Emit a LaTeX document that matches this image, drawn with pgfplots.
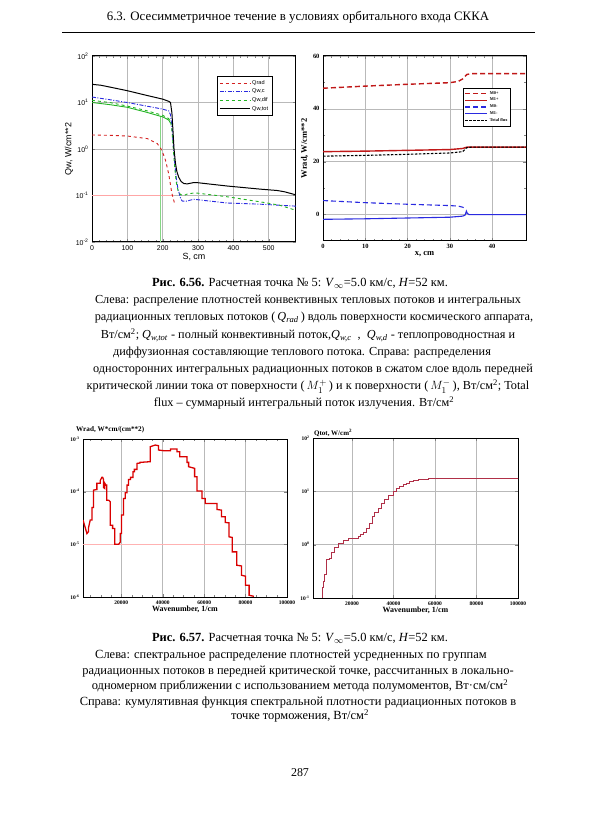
\documentclass[border=0pt]{standalone}
\usepackage{pgfplots}
\pgfplotsset{compat=1.18}
\usepackage{fontspec}
\setmainfont{Liberation Serif}
\setsansfont{Liberation Sans}
\definecolor{cred}{HTML}{D42020}
\definecolor{cblue}{HTML}{2A2AE0}
\definecolor{cgreen}{HTML}{22B422}
\definecolor{dred}{HTML}{C01818}
\definecolor{pred}{HTML}{B03048}
\newcommand{\capfont}{\fontsize{12.5}{15}\selectfont}
\newcommand{\capfontb}{\fontsize{12.3}{14}\selectfont}
\begin{document}
\begin{tikzpicture}[captxt/.style={anchor=base, inner sep=0pt}]
\path[use as bounding box, fill=white] (0bp,0bp) rectangle (600bp,815bp);
% header
\node[captxt, font=\fontsize{12.9}{14}\selectfont] at (298bp,794bp) {6.3. Осесимметричное течение в условиях орбитального входа СККА};
\draw[line width=0.8bp] (62bp,783bp) -- (535bp,783bp);

% ---------- plot 1 ----------
\begin{axis}[at={(92bp,573bp)}, anchor=south west, scale only axis,
  width=204bp, height=186bp,
  ymode=log, xmin=0, xmax=577, ymin=1e-2, ymax=1e2,
  xtick={0,100,200,300,400,500}, minor x tick num=4,
  ytick={1e-2,1e-1,1,10,100}, yminorticks=false,
  yticklabels={10\textsuperscript{-2},10\textsuperscript{-1},10\textsuperscript{0},10\textsuperscript{1},10\textsuperscript{2}},
  grid=major, major grid style={gray!55, line width=0.6bp},
  axis line style={line width=1bp},
  major tick length=3bp, minor tick length=1.8bp,
  tick label style={font=\sffamily\fontsize{7}{8}\selectfont},
  /pgf/number format/assume math mode=true,
  xlabel={S, cm}, ylabel={Qw, W/cm**2},
  label style={font=\sffamily\fontsize{9}{10}\selectfont},
  xlabel style={yshift=4bp},
  ylabel style={yshift=-4bp},
  legend style={at={(0.613,0.892)}, anchor=north west, draw=black, line width=0.4bp,
    font=\sffamily\fontsize{5.6}{6}\selectfont, inner sep=2bp, row sep=-0.8bp,
    cells={anchor=west}},
  legend image code/.code={\draw[#1] (0bp,0bp) -- (30bp,0bp);},
]
\addplot[forget plot, red!35, line width=0.5bp] coordinates {(0,0.1) (231,0.1)};
\addplot[forget plot, cgreen!55, line width=0.4bp] coordinates {(193,5.0) (193,0.01)};
\addplot[cred, dashed, line width=0.9bp] coordinates {
(0,2.0) (50,1.97) (100,1.9) (157,1.67) (185,1.3) (198,0.93) (208,0.57) (217,0.29) (226,0.11) (234,0.066)};
\addlegendentry{Qrad}
\addplot[cblue, dash pattern=on 4bp off 1.5bp on 1bp off 1.5bp, line width=0.9bp] coordinates {
(0,13.1) (50,11.5) (99,10) (150,8.5) (200,7.2) (217,6.6) (222,5.5) (226,3) (230,1.2) (234,0.5) (238,0.25) (243,0.14) (250,0.09) (255,0.076) (265,0.075) (288,0.083) (300,0.081) (382,0.069) (476,0.065) (577,0.059)};
\addlegendentry{Qw,c}
\addplot[cgreen, dashed, line width=0.9bp] coordinates {
(0,11.1) (50,10) (99,8.4) (150,6.8) (200,5.3) (217,4.5) (222,4) (226,2.5) (230,1.0) (234,0.4) (238,0.2) (243,0.13) (250,0.105) (260,0.1) (270,0.108) (288,0.113) (300,0.112) (382,0.094) (476,0.073) (530,0.062) (577,0.048)};
\addlegendentry{Qw,dif}
\addplot[forget plot, cgreen, line width=0.9bp] coordinates {
(0,10) (50,9.0) (99,7.9) (150,6.3) (200,4.9) (217,4.2) (222,3.6)};
\addplot[black, line width=1bp] coordinates {
(0,24.6) (25,23.5) (50,21.5) (99,18) (150,14.5) (200,11.8) (217,10.6) (222,10) (226,6) (229,2.5) (232,1.0) (236,0.5) (240,0.33) (245,0.25) (252,0.2) (260,0.18) (270,0.178) (288,0.19) (300,0.188) (382,0.16) (476,0.137) (524,0.128) (545,0.12) (577,0.103)};
\addlegendentry{Qw,tot}
\end{axis}

% ---------- plot 2 ----------
\begin{axis}[at={(323bp,574bp)}, anchor=south west, scale only axis,
  width=203bp, height=185bp,
  xmin=0, xmax=48, ymin=-10, ymax=60,
  xtick={0,10,20,30,40}, ytick={0,20,40,60},
  minor x tick num=4, minor y tick num=1,
  grid=major, major grid style={gray!55, line width=0.6bp},
  axis line style={line width=1bp},
  major tick length=3bp, minor tick length=1.8bp,
  tick label style={font=\bfseries\fontsize{6.5}{7}\selectfont},
  /pgf/number format/assume math mode=true,
  xlabel={x, cm}, ylabel={Wrad, W/cm**2},
  label style={font=\bfseries\fontsize{8.5}{10}\selectfont},
  xlabel style={yshift=4bp},
  ylabel style={yshift=-2bp},
  legend style={at={(0.69,0.827)}, anchor=north west, draw=black, line width=0.4bp,
    font=\bfseries\fontsize{4.3}{5}\selectfont, inner sep=1.2bp, row sep=-1.6bp,
    cells={anchor=west}},
  legend image code/.code={\draw[#1] (0bp,0bp) -- (22bp,0bp);},
]
\addplot[dred, dashed, dash pattern=on 5bp off 3bp, line width=1.4bp] coordinates {
(0,47.8) (10,48.6) (20,49.3) (30,49.9) (32,50.4) (33,51.3) (34,53.0) (35,53.3) (48,53.3)};
\addlegendentry{M0+}
\addplot[dred, line width=1.4bp] coordinates {
(0,23.8) (10,24.0) (20,24.3) (30,24.6) (33,25.0) (34,25.5) (48,25.5)};
\addlegendentry{M1+}
\addplot[cblue, dash pattern=on 5bp off 3bp, line width=1.1bp] coordinates {
(0,5.3) (10,4.5) (20,3.9) (30,3.4) (32,3.2) (33,2.8) (33.8,2.2)};
\addlegendentry{M0-}
\addplot[cblue, line width=1.1bp] coordinates {
(0,-1.8) (10,-1.6) (20,-1.3) (30,-1.0) (33,-0.6) (33.6,-0.2) (33.9,1.3) (34.1,0.5) (34.5,0) (48,0)};
\addlegendentry{M1-}
\addplot[black, dash pattern=on 2.5bp off 1.5bp, line width=1.1bp] coordinates {
(0,22.1) (10,22.4) (20,22.8) (30,23.3) (33,23.8) (34,25.3) (35,25.5) (48,25.5)};
\addlegendentry{Total flux}
\end{axis}

% captions 1
\node[captxt, font=\capfont] at (300bp,528bp) {\textbf{Рис. 6.56.} Расчетная точка № 5: \textit{V}$_{\infty}$=5.0 км/с, \textit{H}=52 км.};
\node[captxt, font=\capfontb] at (308bp,511bp) {Слева: распреление плотностей конвективных тепловых потоков и интегральных};
\node[captxt, font=\capfontb] at (314bp,494bp) {радиационных тепловых потоков (\,\textit{Q}\textsubscript{\textit{rad}}\,) вдоль поверхности космического аппарата,};
\node[captxt, font=\capfontb] at (308bp,476bp) {Вт/см\textsuperscript{2}; \textit{Q}\textsubscript{\textit{w,tot}} - полный конвективный поток,\textit{Q}\textsubscript{\textit{w,c}}\ \ , \ \textit{Q}\textsubscript{\textit{w,d}} - теплопроводностная и};
\node[captxt, font=\capfontb] at (302bp,459bp) {диффузионная составляющие теплового потока. Справа: распределения};
\node[captxt, font=\capfontb] at (313bp,442bp) {односторонних интегральных радиационных потоков в сжатом слое вдоль передней};
\node[captxt, font=\capfontb] at (308bp,425bp) {критической линии тока от поверхности (\,$M_1^{+}$\,) и к поверхности (\,$M_1^{-}$\,), Вт/см\textsuperscript{2}; Total};
\node[captxt, font=\capfontb] at (304bp,408bp) {flux – суммарный интегральный поток излучения. Вт/см\textsuperscript{2}};

% ---------- plot 3 ----------
\node[anchor=west, inner sep=0pt, font=\bfseries\fontsize{7.2}{8}\selectfont] at (76bp,385bp) {Wrad, W*cm/(cm**2)};
\begin{axis}[at={(83bp,218bp)}, anchor=south west, scale only axis,
  width=204bp, height=158bp,
  ymode=log, xmin=1500, xmax=100000, ymin=1e-6, ymax=1e-3,
  scaled x ticks=false,
  xtick={20000,40000,60000,80000,100000},
  xticklabels={20000,40000,60000,80000,100000},
  minor xtick={5000,10000,15000,25000,30000,35000,45000,50000,55000,65000,70000,75000,85000,90000,95000},
  ytick={1e-6,1e-5,1e-4,1e-3}, yminorticks=false,
  yticklabels={10\textsuperscript{-6},10\textsuperscript{-5},10\textsuperscript{-4},10\textsuperscript{-3}},
  grid=major, major grid style={gray!55, line width=0.6bp},
  axis line style={line width=1bp},
  major tick length=3bp, minor tick length=1.8bp,
  tick label style={font=\bfseries\fontsize{5.5}{6}\selectfont},
  /pgf/number format/assume math mode=true,
  xlabel={Wavenumber, 1/cm},
  label style={font=\bfseries\fontsize{8}{9}\selectfont},
  xlabel style={yshift=5bp},
]
\addplot[red!30, line width=0.5bp] coordinates {(1500,1e-5) (73000,1e-5)};
\addplot[red!85!black, line width=1.3bp] coordinates {
(1500,2.9e-5) (2700,2.0e-5) (3400,1.6e-5) (4200,1.75e-5) (4200,2.1e-5) (5000,2.9e-5) (5800,2.9e-5)
(5800,5.0e-5) (6600,5.0e-5) (6600,1.07e-4) (8200,1.10e-4) (8200,1.44e-4) (9800,1.44e-4)
(9800,1.62e-4) (10600,1.87e-4) (11000,1.87e-4) (11400,1.71e-4) (11400,1.2e-4) (12000,1.15e-4)
(12000,1.45e-4) (12600,1.33e-4) (13000,1.33e-4) (13000,6.9e-5) (13900,6.9e-5) (14700,6.4e-5)
(14700,2.3e-5) (15800,2.3e-5) (15800,2.0e-5) (16800,2.0e-5) (16800,1.0e-5) (18700,1.0e-5)
(19500,1.1e-5) (19500,1.6e-5) (20100,1.6e-5) (20100,3.6e-5) (21100,3.6e-5) (21100,7.4e-5)
(21900,7.4e-5) (21900,9.5e-5) (22700,9.5e-5) (22700,1.33e-4) (23500,1.33e-4) (23500,1.71e-4)
(24400,1.71e-4) (24400,1.87e-4) (25600,1.87e-4) (25600,2.39e-4) (26300,2.39e-4) (26300,2.65e-4)
(27600,2.65e-4) (27600,3.44e-4) (29000,3.50e-4) (29000,3.60e-4) (34000,3.71e-4) (34000,7.14e-4)
(36400,7.69e-4) (38000,7.46e-4) (38000,6.18e-4) (40400,6.0e-4) (43700,6.0e-4) (43700,6.46e-4)
(46900,6.46e-4) (46900,5.74e-4) (48200,5.74e-4) (48200,4.61e-4) (51700,4.61e-4) (51700,3.60e-4)
(52500,3.60e-4) (52500,2.98e-4) (55400,2.77e-4) (55400,1.92e-4) (56500,1.92e-4) (56500,1.03e-4)
(59000,1.03e-4) (59000,7.43e-5) (60500,7.43e-5) (60500,5.97e-5) (66200,5.97e-5) (66200,4.59e-5)
(68400,4.46e-5) (68400,3.33e-5) (70200,3.33e-5) (70200,2.6e-5) (72000,2.56e-5) (72000,1.39e-5)
(73600,1.35e-5) (73600,7.19e-6) (75700,7.19e-6) (75700,4.01e-6) (78000,3.89e-6) (78000,2.59e-6)
(80000,2.48e-6) (80000,1.67e-6) (81700,1.67e-6) (81700,1.08e-6) (84000,1.03e-6)};
\end{axis}

% ---------- plot 4 ----------
\node[anchor=west, inner sep=0pt, font=\bfseries\fontsize{7}{8}\selectfont] at (314bp,382bp) {Qtot, W/cm\textsuperscript{2}};
\begin{axis}[at={(313bp,217bp)}, anchor=south west, scale only axis,
  width=205bp, height=160bp,
  ymode=log, xmin=1200, xmax=100000, ymin=1e-1, ymax=1e2,
  scaled x ticks=false,
  xtick={20000,40000,60000,80000,100000},
  xticklabels={20000,40000,60000,80000,100000},
  ytick={1e-1,1,10,100}, yminorticks=false,
  yticklabels={10\textsuperscript{-1},10\textsuperscript{0},10\textsuperscript{1},10\textsuperscript{2}},
  grid=major, major grid style={gray!55, line width=0.6bp},
  axis line style={line width=0.9bp},
  major tick length=3bp,
  tick label style={font=\bfseries\fontsize{5.5}{6}\selectfont},
  /pgf/number format/assume math mode=true,
  xlabel={Wavenumber, 1/cm},
  label style={font=\bfseries\fontsize{8}{9}\selectfont},
  xlabel style={yshift=5bp},
]
\addplot[pred, line width=0.9bp, const plot] coordinates {
(5600,0.1) (5900,0.155) (6400,0.2) (6800,0.274) (7600,0.52) (9200,0.55) (10000,0.70) (11650,0.89)
(13250,1.045) (15650,1.205) (18080,1.30) (20500,1.33) (22900,1.43) (24100,1.55) (25300,1.70)
(26900,2.05) (28500,2.55) (29800,3.40) (30950,4.04) (32600,4.87) (34200,6.04) (35800,7.18)
(37400,8.29) (39800,10.0) (41400,11.2) (43000,12.4) (44600,13.4) (46250,14.3) (47800,15.1) (49450,15.85)
(52000,16.5) (54300,17.0) (57000,17.3) (59900,17.5) (70000,17.5) (80000,17.6) (90000,17.7) (100000,18.0)};
\end{axis}

% captions 2
\node[captxt, font=\capfont] at (300bp,173bp) {\textbf{Рис. 6.57.} Расчетная точка № 5: \textit{V}$_{\infty}$=5.0 км/с, \textit{H}=52 км.};
\node[captxt, font=\capfont] at (291bp,156bp) {Слева: спектральное распределение плотностей усредненных по группам};
\node[captxt, font=\capfont] at (298bp,140bp) {радиационных потоков в передней критической точке, рассчитанных в локально-};
\node[captxt, font=\capfont] at (300bp,125bp) {одномерном приближении с использованием метода полумоментов, Вт·см/см\textsuperscript{2}};
\node[captxt, font=\capfont] at (298bp,109bp) {Справа: кумулятивная функция спектральной плотности радиационных потоков в};
\node[captxt, font=\capfont] at (300bp,95bp) {точке торможения, Вт/см\textsuperscript{2}};

\node[captxt, font=\fontsize{12}{14}\selectfont] at (300bp,39bp) {287};
\end{tikzpicture}
\end{document}
